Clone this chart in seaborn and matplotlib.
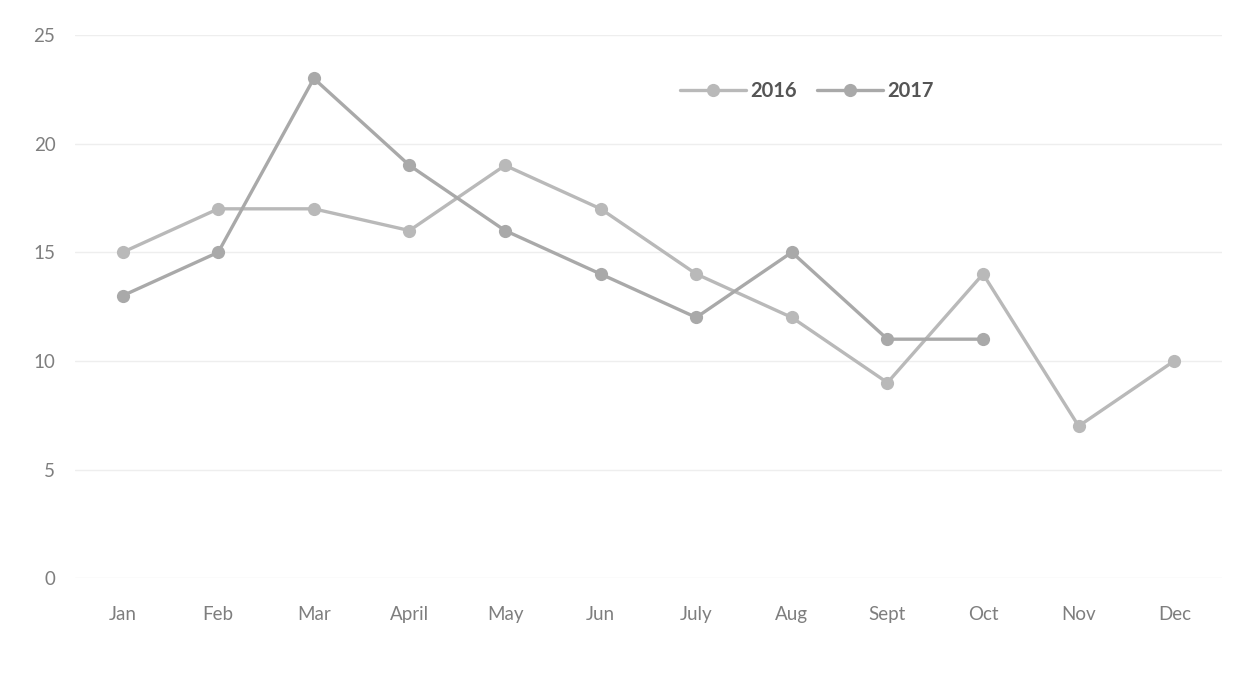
import matplotlib
matplotlib.use("Agg")
import matplotlib.pyplot as plt
import seaborn as sns
import pandas as pd

months = ["Jan", "Feb", "Mar", "April", "May", "Jun", "July", "Aug", "Sept", "Oct", "Nov", "Dec"]
values_2016 = [15, 17, 17, 16, 19, 17, 14, 12, 9, 14, 7, 10]
values_2017 = [13, 15, 23, 19, 16, 14, 12, 15, 11, 11]
y_ticks = [0, 5, 10, 15, 20, 25]

rows = []
for i, v in enumerate(values_2016):
    rows.append({"pos": i, "value": v, "year": "2016"})
for i, v in enumerate(values_2017):
    rows.append({"pos": i, "value": v, "year": "2017"})
df = pd.DataFrame(rows)

sns.set_theme(style="white")
plt.rcParams["font.family"] = ["Lato", "DejaVu Sans"]

fig = plt.figure(figsize=(12.47, 7.0), dpi=100)
ax = fig.add_axes([0.060, 0.174, 0.920, 0.776])

palette = {"2016": "#b9b9b9", "2017": "#a9a9a9"}
sns.lineplot(data=df, x="pos", y="value", hue="year", palette=palette,
             marker="o", markersize=9.5, markeredgewidth=0, linewidth=2.4,
             sort=False, ax=ax, zorder=3)

ax.set_xlim(-0.5, 11.5)
ax.set_ylim(0, 25)
ax.set_xticks(range(len(months)))
ax.set_xticklabels(months)
ax.set_yticks(y_ticks)
ax.set_yticklabels([str(t) for t in y_ticks])
ax.tick_params(axis="both", length=0, labelsize=13.5, labelcolor="#7e7e7e")
ax.tick_params(axis="x", pad=20)
ax.tick_params(axis="y", pad=14)
ax.set_xlabel("")
ax.set_ylabel("")
for s in ax.spines.values():
    s.set_visible(False)
ax.yaxis.grid(True, color="#eeeeee", linewidth=1.0)
ax.set_axisbelow(True)

leg = ax.legend(loc="center", bbox_to_anchor=(0.647, 0.870),
                bbox_transform=fig.transFigure, ncol=2, frameon=False,
                fontsize=14.5, handlelength=3.3, columnspacing=1.0,
                handletextpad=0.2)
for t in leg.get_texts():
    t.set_color("#555555")
    t.set_fontweight("bold")

fig.savefig("out.png", dpi=100, facecolor="white")
